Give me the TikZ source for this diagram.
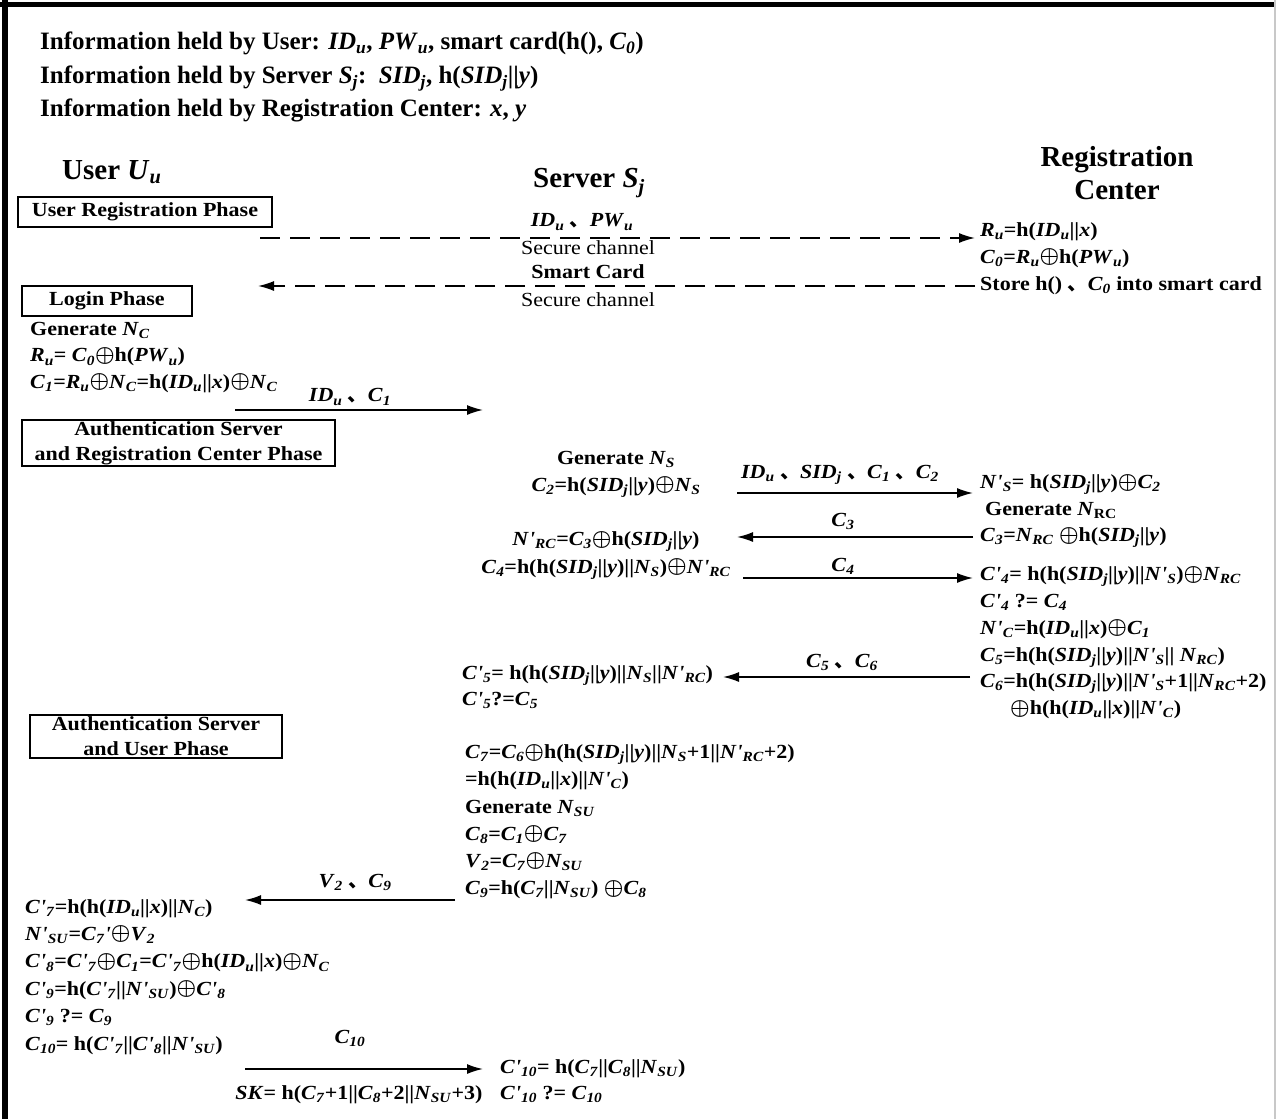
\documentclass[tikz,border=0pt]{standalone}
\usepackage{fontspec}
\setmainfont{Liberation Serif}
\newfontfamily\bodyfont{Liberation Serif}[FakeStretch=1.1]
\newfontfamily\cjk{Noto Sans CJK SC}
\usepackage{tikz}
\usetikzlibrary{arrows.meta,positioning}
\definecolor{framegray}{HTML}{C8C8C8}
\newcommand\vsub[2]{\textit{#1}\textsubscript{\textit{#2}}}
\newcommand\vprm[2]{\textit{#1}\textit{'}\textsubscript{\textit{#2}}}
\newcommand\xo{\raisebox{0.5pt}{\scalebox{1.06}{$\oplus$}}}
\newcommand\dun{{\cjk 、}}
\tikzset{
  txt/.style={inner sep=0pt,font=\boldmath\bodyfont\bfseries\fontsize{20}{26.5}\selectfont,align=left},
  lsk/.style={font=\boldmath\bodyfont\bfseries\fontsize{20}{#1}\selectfont},
  ttl/.style={inner sep=0pt,font=\boldmath\bfseries\fontsize{29}{33}\selectfont,align=center},
  phasebox/.style={draw,line width=1.3pt,inner sep=0pt,align=center,font=\bodyfont\bfseries\fontsize{20}{25}\selectfont},
  msg/.style={line width=1.6pt,-{Latex[length=16pt,width=10pt]}},
  chan/.style={msg,dash pattern=on 20pt off 10pt}
}
\begin{document}
\begin{tikzpicture}[x=1pt,y=-1pt]
  \useasboundingbox (0,0) rectangle (1276,1119);
  \draw[line width=5pt] (0,4) -- (1276,4);
  \draw[line width=6pt] (5,0) -- (5,1119);
  \draw[framegray,line width=2pt] (1275,0) -- (1275,1119);

  \node[txt,anchor=north west,font=\boldmath\bfseries\fontsize{25}{33.5}\selectfont] (info) at (40,32) {Information held by User: \vsub{ID}{u}, \vsub{PW}{u}, smart card(h(), \vsub{C}{0})\\
    Information held by Server \vsub{S}{j}:\ \ \vsub{SID}{j}, h(\vsub{SID}{j}||\textit{y})\\
    Information held by Registration Center: \textit{x}, \textit{y}};

  \node[ttl,anchor=west] (user) at (62,172) {User \vsub{U}{u}};
  \node[ttl] (server) at (589,183) {Server \vsub{S}{j}};
  \node[ttl] (rc) at (1117,173) {Registration\\Center};

  \node[phasebox,minimum width=254,minimum height=30] (ph1) at (145,212) {User Registration Phase};
  \node[phasebox,minimum width=170,minimum height=30] (ph2) at (107,301) {Login Phase};
  \node[phasebox,minimum width=313,minimum height=46] (ph3) at (178.5,443) {Authentication Server\\and Registration Center Phase};
  \node[phasebox,minimum width=252,minimum height=43] (ph4) at (156,736.5) {Authentication Server\\and User Phase};

  \node[txt,anchor=north west,lsk=27] (rcreg) at (980,222) {\vsub{R}{u}=h(\vsub{ID}{u}||\textit{x})\\
    \vsub{C}{0}=\vsub{R}{u}\xo h(\vsub{PW}{u})\\
    Store h() \dun\vsub{C}{0} into smart card};
  \coordinate (a1s) at (260,238);
  \coordinate (a1e) at (975,238);
  \draw[chan] (a1s) -- (a1e);
  \node[txt] (l1) at (582,222) {\vsub{ID}{u} \dun\vsub{PW}{u}};
  \node[txt,font=\bodyfont\fontsize{20}{26}\selectfont] (sc1) at (588,248) {Secure channel};
  \coordinate (a2s) at (975,286);
  \coordinate (a2e) at (258,286);
  \draw[chan] (a2s) -- (a2e);
  \node[txt] (l2) at (588,272) {Smart Card};
  \node[txt,font=\bodyfont\fontsize{20}{26}\selectfont] (sc2) at (588,300) {Secure channel};

  \node[txt,anchor=north west,lsk=26.5] (login) at (30,322) {Generate \vsub{N}{C}\\
    \vsub{R}{u}= \vsub{C}{0}\xo h(\vsub{PW}{u})\\
    \vsub{C}{1}=\vsub{R}{u}\xo\vsub{N}{C}=h(\vsub{ID}{u}||\textit{x})\xo\vsub{N}{C}};
  \coordinate (a3s) at (235,410);
  \coordinate (a3e) at (483,410);
  \draw[msg] (a3s) -- (a3e);
  \node[txt] (l3) at (350,397) {\vsub{ID}{u} \dun\vsub{C}{1}};

  \node[txt,anchor=north,align=center,lsk=27] (srva) at (616,451) {Generate \vsub{N}{S}\\
    \vsub{C}{2}=h(\vsub{SID}{j}||\textit{y})\xo\vsub{N}{S}};
  \node[txt,anchor=north west] (rca) at (980,474) {\vprm{N}{S}= h(\vsub{SID}{j}||\textit{y})\xo\vsub{C}{2}\\
    \hspace{5pt}Generate \textit{N}\textsubscript{RC}\\
    \vsub{C}{3}=\vsub{N}{RC} \xo h(\vsub{SID}{j}||\textit{y})};
  \coordinate (a4s) at (737,493);
  \coordinate (a4e) at (973,493);
  \draw[msg] (a4s) -- (a4e);
  \node[txt] (l4) at (840,475) {\vsub{ID}{u} \dun\vsub{SID}{j} \dun\vsub{C}{1} \dun\vsub{C}{2}};
  \coordinate (a5s) at (973,537);
  \coordinate (a5e) at (737,537);
  \draw[msg] (a5s) -- (a5e);
  \node[txt] (l5) at (843,521) {\vsub{C}{3}};

  \node[txt,anchor=north,align=center,lsk=27.5] (srvb) at (606,531) {\vprm{N}{RC}=\vsub{C}{3}\xo h(\vsub{SID}{j}||\textit{y})\\
    \vsub{C}{4}=h(h(\vsub{SID}{j}||\textit{y})||\vsub{N}{S})\xo\vprm{N}{RC}};
  \coordinate (a6s) at (743,578);
  \coordinate (a6e) at (973,578);
  \draw[msg] (a6s) -- (a6e);
  \node[txt] (l6) at (843,566) {\vsub{C}{4}};
  \node[txt,anchor=north west,lsk=26.8] (rcb) at (980,566) {\vprm{C}{4}= h(h(\vsub{SID}{j}||\textit{y})||\vprm{N}{S})\xo\vsub{N}{RC}\\
    \vprm{C}{4} ?= \vsub{C}{4}\\
    \vprm{N}{C}=h(\vsub{ID}{u}||\textit{x})\xo\vsub{C}{1}\\
    \vsub{C}{5}=h(h(\vsub{SID}{j}||\textit{y})||\vprm{N}{S}|| \vsub{N}{RC})\\
    \vsub{C}{6}=h(h(\vsub{SID}{j}||\textit{y})||\vprm{N}{S}+1||\vsub{N}{RC}+2)\\
    \hspace{30pt}\xo h(h(\vsub{ID}{u}||\textit{x})||\vprm{N}{C})};
  \coordinate (a7s) at (970,677);
  \coordinate (a7e) at (723,677);
  \draw[msg] (a7s) -- (a7e);
  \node[txt] (l7) at (842,662) {\vsub{C}{5} \dun\vsub{C}{6}};
  \node[txt,anchor=north west] (srvc) at (462,665) {\vprm{C}{5}= h(h(\vsub{SID}{j}||\textit{y})||\vsub{N}{S}||\vprm{N}{RC})\\
    \vprm{C}{5}?=\vsub{C}{5}};

  \node[txt,anchor=north west,lsk=27.2] (srvd) at (465,744) {\vsub{C}{7}=\vsub{C}{6}\xo h(h(\vsub{SID}{j}||\textit{y})||\vsub{N}{S}+1||\vprm{N}{RC}+2)\\
    =h(h(\vsub{ID}{u}||\textit{x})||\vprm{N}{C})\\
    Generate \vsub{N}{SU}\\
    \vsub{C}{8}=\vsub{C}{1}\xo\vsub{C}{7}\\
    \vsub{V}{2}=\vsub{C}{7}\xo\vsub{N}{SU}\\
    \vsub{C}{9}=h(\vsub{C}{7}||\vsub{N}{SU}) \xo\vsub{C}{8}};
  \coordinate (a8s) at (455,900);
  \coordinate (a8e) at (245,900);
  \draw[msg] (a8s) -- (a8e);
  \node[txt] (l8) at (355,882) {\vsub{V}{2} \dun\vsub{C}{9}};
  \node[txt,anchor=north west,lsk=27.4] (usre) at (25,899) {\vprm{C}{7}=h(h(\vsub{ID}{u}||\textit{x})||\vsub{N}{C})\\
    \vprm{N}{SU}=\vsub{C}{7}\textit{'}\xo\vsub{V}{2}\\
    \vprm{C}{8}=\vprm{C}{7}\xo\vsub{C}{1}=\vprm{C}{7}\xo h(\vsub{ID}{u}||\textit{x})\xo\vsub{N}{C}\\
    \vprm{C}{9}=h(\vprm{C}{7}||\vprm{N}{SU})\xo\vprm{C}{8}\\
    \vprm{C}{9} ?= \vsub{C}{9}\\
    \vsub{C}{10}= h(\vprm{C}{7}||\vprm{C}{8}||\vprm{N}{SU})};

  \coordinate (a9s) at (245,1069);
  \coordinate (a9e) at (483,1069);
  \draw[msg] (a9s) -- (a9e);
  \node[txt] (l9) at (350,1038) {\vsub{C}{10}};
  \node[txt] (sk) at (359,1095) {\textit{SK}= h(\vsub{C}{7}+1||\vsub{C}{8}+2||\vsub{N}{SU}+3)};
  \node[txt,anchor=north west] (srve) at (500,1059) {\vprm{C}{10}= h(\vsub{C}{7}||\vsub{C}{8}||\vsub{N}{SU})\\
    \vprm{C}{10} ?= \vsub{C}{10}};
\end{tikzpicture}
\end{document}
